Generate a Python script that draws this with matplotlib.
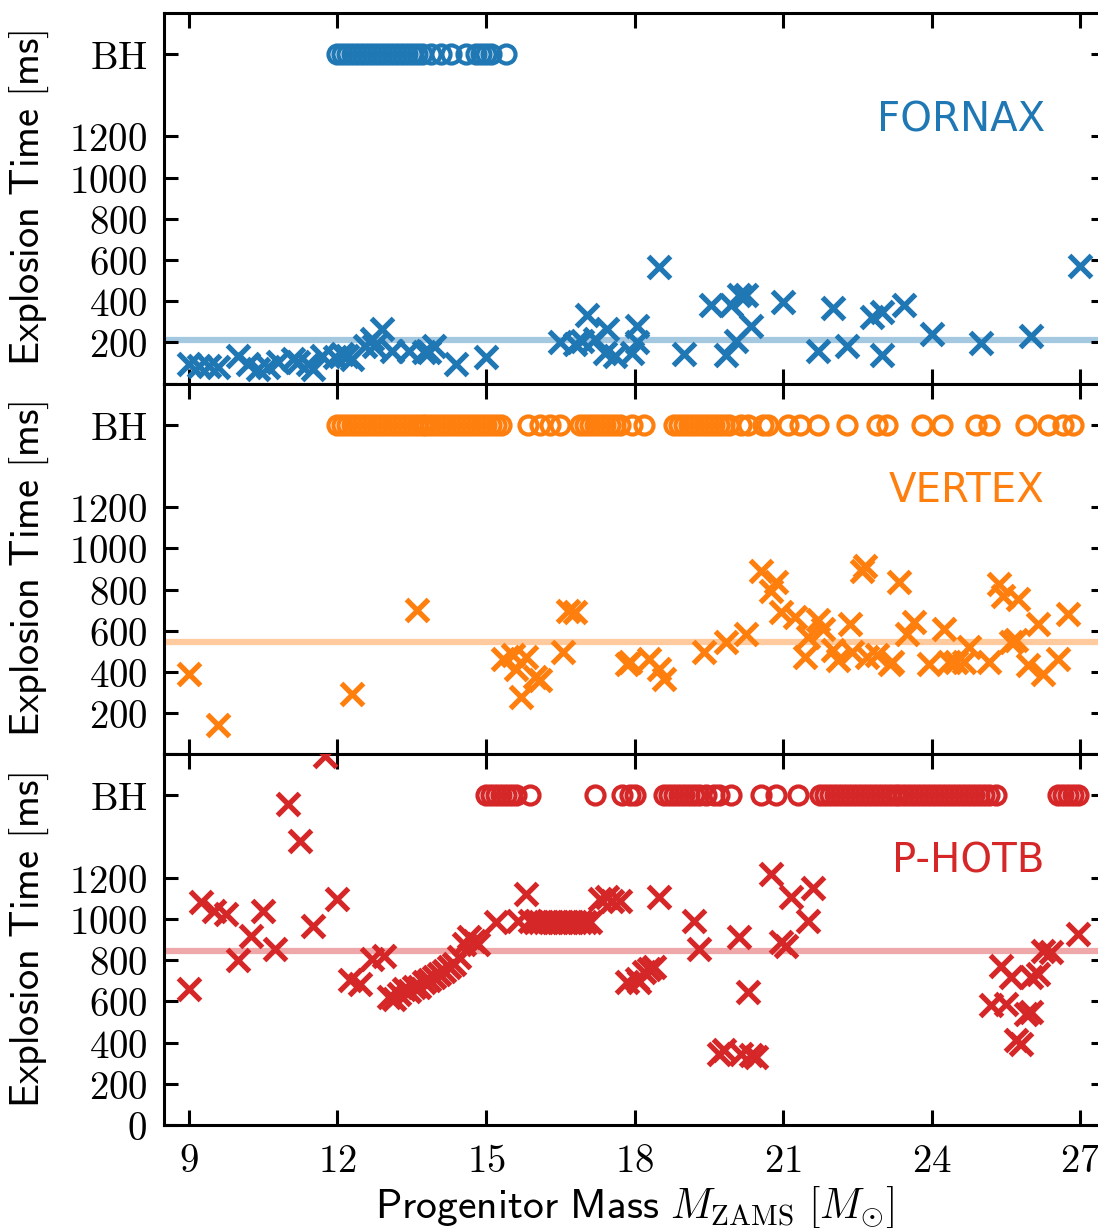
import numpy as np
import matplotlib.pyplot as plt

plt.rcParams['mathtext.fontset'] = 'cm'

# value used to place the "BH" (no explosion) row
BH_LEVEL = 1600

# ---- FORNAX ----
fornax_mass = [9.0, 9.2, 9.4, 9.6, 10.0, 10.2, 10.4, 10.6, 10.8, 11.1, 11.2, 11.4, 11.5,
               11.7, 11.95, 12.1, 12.2, 12.3, 12.55, 12.7, 12.9, 12.75, 13.1, 13.45, 13.75,
               13.95, 13.85, 14.4, 15.0, 16.5, 16.8, 17.05, 16.95, 17.2, 17.45, 17.4, 17.6,
               17.95, 18.05, 18.05, 18.5, 19.0, 19.55, 19.85, 19.95, 20.1, 20.25, 20.05,
               20.35, 21.0, 21.7, 22.0, 22.3, 22.8, 23.0, 23.0, 23.45, 24.0, 25.0, 26.0, 27.0]
fornax_time = [93, 84, 84, 79, 133, 93, 69, 79, 103, 118, 103, 93, 69,
               133, 128, 142, 133, 118, 181, 215, 263, 181, 157, 157, 152,
               181, 152, 93, 128, 200, 190, 331, 207, 215, 265, 149, 132,
               149, 282, 200, 565, 142, 382, 140, 382, 432, 432, 207,
               282, 398, 156, 365, 182, 323, 348, 140, 382, 240, 198, 232, 573]
fornax_bh = [12.0, 12.1, 12.2, 12.3, 12.4, 12.5, 12.6, 12.7, 12.8, 12.9, 13.0, 13.1,
             13.2, 13.3, 13.4, 13.5, 13.6, 13.7, 13.9, 14.1, 14.3, 14.6, 14.8, 14.9,
             15.0, 15.1, 15.4]
fornax_mean = 210

# ---- VERTEX ----
vertex_mass = [9.0, 9.6, 12.3, 13.6, 15.35, 15.55, 15.8, 15.6, 15.7, 16.0, 16.1, 16.55,
               16.65, 16.8, 17.85, 17.9, 18.3, 18.5, 18.6, 19.4, 19.85, 20.25, 20.55,
               20.85, 20.75, 20.95, 21.25, 21.7, 21.5, 21.45, 21.8, 22.0, 22.1, 22.35,
               22.4, 22.65, 22.6, 22.7, 22.9, 23.2, 23.15, 23.35, 23.5, 23.65, 23.95,
               24.25, 24.35, 24.5, 24.65, 24.75, 25.15, 25.35, 25.45, 25.75, 25.6, 25.7,
               25.95, 26.15, 26.25, 26.55, 26.75]
vertex_time = [392, 142, 295, 702, 465, 481, 473, 416, 279, 376, 360, 497,
               698, 690, 440, 448, 465, 416, 368, 497, 545, 586, 892,
               835, 795, 690, 666, 650, 569, 473, 610, 505, 456, 634,
               497, 916, 892, 473, 481, 448, 440, 835, 586, 642, 440,
               610, 448, 448, 448, 521, 448, 828, 771, 755, 545, 553,
               432, 634, 392, 465, 682]
vertex_bh = [12.0, 12.1, 12.2, 12.3, 12.4, 12.5, 12.6, 12.7, 12.8, 12.9, 13.0, 13.1,
             13.2, 13.3, 13.4, 13.5, 13.6, 13.7, 13.8, 13.9, 14.0, 14.1, 14.2, 14.3,
             14.4, 14.5, 14.6, 14.7, 14.8, 14.9, 15.0, 15.1, 15.2, 15.3,
             15.85, 16.1, 16.3, 16.5, 16.9, 17.0, 17.1, 17.2, 17.3, 17.4, 17.5, 17.6,
             17.7, 17.95, 18.2, 18.8, 18.9, 19.0, 19.1, 19.2, 19.3, 19.4, 19.5, 19.6,
             19.7, 19.8, 19.9, 20.15, 20.3, 20.6, 20.7, 21.1, 21.35, 21.7, 22.3, 22.9,
             23.1, 23.8, 24.2, 24.9, 25.15, 25.9, 26.35, 26.65, 26.85]
vertex_mean = 545

# ---- P-HOTB ----
photb_mass = [9.0, 9.25, 9.5, 9.75, 10.0, 10.25, 10.5, 10.75, 11.0, 11.25, 11.5, 11.75,
              12.0, 12.25, 12.45, 12.7, 12.95,
              13.05, 13.15, 13.25, 13.35, 13.45, 13.55, 13.65, 13.75, 13.85, 13.95,
              14.05, 14.15, 14.25, 14.35, 14.45, 14.55, 14.65, 14.75, 14.85,
              15.2, 15.65, 15.8, 15.9, 16.0, 16.1, 16.2, 16.3, 16.4, 16.5, 16.6, 16.7,
              16.8, 16.9, 17.0, 17.1,
              17.3, 17.45, 17.55, 17.7, 17.85, 18.05, 18.1, 18.2, 18.3, 18.4, 18.5,
              19.2, 19.3, 19.7, 19.8,
              20.1, 20.15, 20.3, 20.35, 20.45, 20.75, 20.95, 21.05, 21.15, 21.5, 21.6,
              25.2, 25.4, 25.5, 25.6, 25.7, 25.8, 25.9, 26.0, 26.0, 26.15, 26.25, 26.4,
              26.95]
photb_time = [662, 1081, 1041, 1025, 799, 920, 1041, 855, 1557, 1379, 968, 1790,
              1097, 702, 686, 807, 823,
              621, 610, 637, 660, 650, 672, 668, 694, 705, 718,
              734, 750, 766, 783, 815, 879, 911, 895, 879,
              984, 992, 1121, 990, 985, 985, 985, 985, 984, 984, 984, 984,
              984, 984, 984, 984,
              1097, 1105, 1089, 1089, 694, 710, 694, 742, 758, 766, 1105,
              992, 855, 347, 363,
              911, 347, 645, 339, 331, 1218, 887, 871, 1105, 992, 1153,
              581, 774, 589, 718, 411, 395, 541, 549, 718, 734, 847, 839,
              928]
photb_bh = [15.0, 15.1, 15.2, 15.3, 15.4, 15.5, 15.6, 15.9, 17.2, 17.75, 17.9, 18.0,
            18.6, 18.7, 18.8, 18.9, 19.0, 19.1, 19.2, 19.3, 19.45, 19.6, 19.7, 19.95,
            20.55, 20.85, 21.3, 21.75, 21.85, 21.95, 22.05, 22.15, 22.25, 22.35, 22.45,
            22.55, 22.65, 22.75, 22.85, 22.95, 23.05, 23.15, 23.25, 23.35, 23.45, 23.55,
            23.65, 23.75, 23.85, 23.95, 24.05, 24.15, 24.25, 24.35, 24.45, 24.55, 24.65,
            24.75, 24.85, 24.95, 25.05, 25.15, 25.3, 26.55, 26.65, 26.75, 26.85, 26.95]
photb_mean = 847

codes = ['FORNAX', 'VERTEX', 'P-HOTB']
colors = ['#1f77b4', '#ff7f0e', '#d62728']
masses = [fornax_mass, vertex_mass, photb_mass]
times = [fornax_time, vertex_time, photb_time]
bhs = [fornax_bh, vertex_bh, photb_bh]
means = [fornax_mean, vertex_mean, photb_mean]

ytick_vals = [0, 200, 400, 600, 800, 1000, 1200, BH_LEVEL]
xtick_vals = [9, 12, 15, 18, 21, 24, 27]

fig = plt.figure(figsize=(10.98, 12.28), dpi=100)
left = 164 / 1098
width = 941 / 1098
h = 370.7 / 1228
bottom0 = 103 / 1228

for i in range(3):
    ax = fig.add_axes([left, bottom0 + (2 - i) * h, width, h])
    c = colors[i]
    ax.axhline(means[i], color=c, alpha=0.4, lw=4.5, zorder=1)
    ax.plot(masses[i], times[i], ls='none', marker='x', color=c, ms=16, mew=3.8, zorder=3)
    ax.plot(bhs[i], [BH_LEVEL] * len(bhs[i]), ls='none', marker='o', mfc='none',
            mec=c, ms=13, mew=3.0, zorder=3)
    ax.text(0.936, 0.71, codes[i], transform=ax.transAxes, ha='right', va='center',
            color=c, fontsize=29)

    ax.set_xlim(8.5, 27.5)
    ax.set_ylim(0, 1800)
    ax.set_xticks(xtick_vals)
    ax.set_yticks(ytick_vals)
    ylabs = ['$%d$' % v for v in ytick_vals[:-1]] + [r'$\mathrm{BH}$']
    if i < 2:
        ylabs[0] = ''
    ax.set_yticklabels(ylabs)
    if i == 2:
        ax.set_xticklabels(['$%d$' % v for v in xtick_vals])
        ax.set_xlabel(r'$\mathsf{Progenitor\ Mass}\ M_{\mathrm{ZAMS}}\ [M_{\odot}]$',
                      fontsize=30)
        ax.xaxis.set_label_coords(0.5, -0.16)
    else:
        ax.set_xticklabels([])
    ax.tick_params(axis='both', direction='in', top=True, right=True, width=2.2,
                   labelsize=28)
    ax.tick_params(axis='x', length=11, pad=12)
    ax.tick_params(axis='y', length=10, pad=12)
    for sp in ax.spines.values():
        sp.set_linewidth(2.2)
    ax.set_ylabel(r'$\mathsf{Explosion\ Time\ [ms]}$', fontsize=29)
    ax.yaxis.set_label_coords(-0.12, 0.5)

fig.savefig('out.png', dpi=100)
